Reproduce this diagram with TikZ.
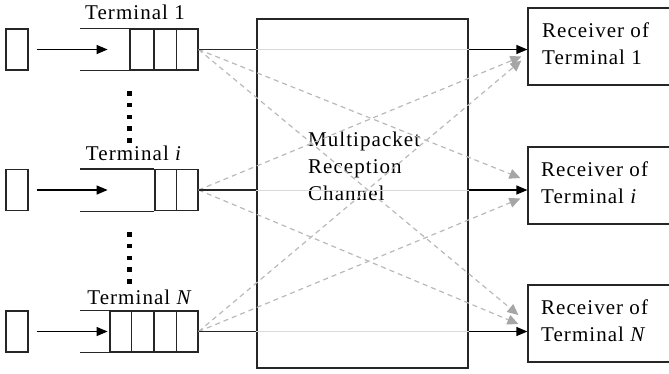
\documentclass[tikz,border=0pt]{standalone}
\usepackage{fontspec}
\setmainfont{Liberation Serif}[LetterSpace=5]
\usetikzlibrary{arrows.meta}
\tikzset{
 boxframe/.style={draw=black!85, line width=1.2pt, inner sep=0pt},
 srcbox/.style={boxframe, minimum width=22pt, minimum height=41pt},
 cellbox/.style={boxframe, minimum height=41pt},
 rxbox/.style={boxframe, minimum width=152pt, minimum height=77pt},
 lbl/.style={font=\fontsize{21}{27}\selectfont, inner sep=0pt, align=left},
 qline/.style={draw=black!85, line width=1.2pt},
 blk/.style={line width=1.2pt, -{Triangle[length=11pt,width=9pt]}},
 thru/.style={draw=gray!30, line width=1pt},
 ghost/.style={draw=gray!55, dash pattern=on 5pt off 4pt, line width=1.2pt, -{Triangle[length=11pt,width=10pt,color=gray!70]}},
 dotcol/.style={line width=5pt, dash pattern=on 4.5pt off 7.3pt}
}
\begin{document}
\begin{tikzpicture}[x=1pt,y=-1pt]
\useasboundingbox (0,0) rectangle (669,373);
% channel
\node[boxframe, minimum width=211pt, minimum height=349pt] (ch) at (362.5,193.5) {};
\node[lbl, anchor=north west] (chl) at (308,132) {Multipacket\\Reception\\Channel};
% receivers
\node[rxbox] (r1) at (604,46.5) {};
\node[rxbox] (ri) at (604,185.5) {};
\node[rxbox] (rN) at (604,323.5) {};
\node[lbl, anchor=west] (r1l) at (542,44) {Receiver of\\Terminal 1};
\node[lbl, anchor=west] (ril) at (541,183) {Receiver of\\Terminal \textit{i}};
\node[lbl, anchor=west] (rNl) at (541,321) {Receiver of\\Terminal \textit{N}};
% sources
\node[srcbox] (s1) at (17,49.5) {};
\node[srcbox] (si) at (17,190) {};
\node[srcbox] (sN) at (17,331.5) {};
\coordinate (qx) at (80,0);
% cells
\node[cellbox, minimum width=68pt] (c1) at (164,49.5) {};
\node[cellbox, minimum width=43pt] (ci) at (176.5,190) {};
\node[cellbox, minimum width=88pt] (cN) at (154,331.5) {};
\foreach \c/\n in {c1/2, ci/1, cN/3}{
  \draw[qline] (\c.north west) -- (qx |- \c.north west);
  \draw[qline] (\c.south west) -- (qx |- \c.south west);
  \foreach \k in {1,...,\n}{
    \draw[qline] ([xshift=-\k*22.3pt]\c.north east) -- ([xshift=-\k*22.3pt]\c.south east);
  }
}
% labels
\node[lbl] (t1) at (135,12) {Terminal 1};
\node[lbl] (ti) at (134,153) {Terminal \textit{i}};
\node[lbl] (tN) at (140,297) {Terminal \textit{N}};
% dots
\draw[dotcol] (129.5,91) -- (129.5,145);
\draw[dotcol] (129.5,232) -- (129.5,286);
% input arrows
\foreach \s in {s1,si,sN}{
  \draw[blk] (\s.east) ++(8,0) -- ++(71,0);
}
% dashed cross links
\draw[ghost] (c1.east) -- ([shift={(-7,-7.5)}]ri.west);
\draw[ghost] (c1.east) -- ([shift={(-9,-8.5)}]rN.west);
\draw[ghost] (ci.east) -- ([shift={(-6,10)}]r1.west);
\draw[ghost] (ci.east) -- ([shift={(-9,0.5)}]rN.west);
\draw[ghost] (cN.east) -- ([shift={(-6,14)}]r1.west);
\draw[ghost] (cN.east) -- ([shift={(-7,13)}]ri.west);
% direct links
\foreach \c/\r in {c1/r1, ci/ri, cN/rN}{
  \draw[qline] (\c.east) -- (ch.west |- \c.east);
  \draw[thru] (ch.west |- \c.east) -- (ch.east |- \c.east);
  \draw[blk] (ch.east |- \c.east) -- (\r.west |- \c.east);
}
\end{tikzpicture}
\end{document}
